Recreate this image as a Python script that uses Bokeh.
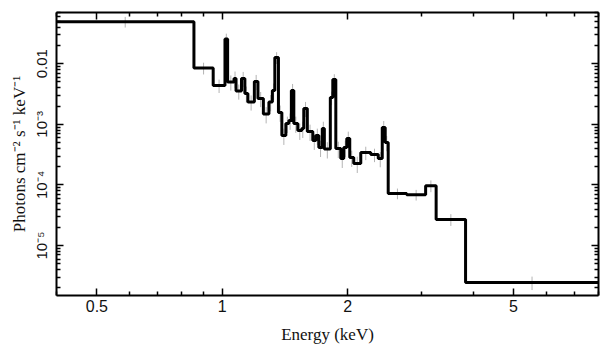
import numpy as np
from bokeh.plotting import figure
from bokeh.models import LogAxis, FixedTicker, Range1d, ColumnDataSource, CustomLabelingPolicy
from bokeh.embed import file_html
from bokeh.resources import INLINE

# Bin edges (keV) and unfolded flux (photons cm^-2 s^-1 keV^-1)
edges = [0.40, 0.855, 0.951, 1.015, 1.030, 1.067, 1.079, 1.112, 1.133, 1.152,
         1.194, 1.218, 1.255, 1.294, 1.319, 1.337, 1.364, 1.390, 1.421, 1.445,
         1.465, 1.485, 1.518, 1.552, 1.569, 1.600, 1.649, 1.677, 1.705, 1.738,
         1.758, 1.817, 1.842, 1.873, 1.925, 1.957, 1.990, 2.023, 2.068, 2.150,
         2.272, 2.368, 2.421, 2.461, 2.502, 2.771, 3.077, 3.261, 3.837, 8.0]
flux = [0.0494, 0.00852, 0.00438, 0.0257, 0.00500, 0.00572, 0.00355, 0.00572, 0.00323,
        0.00234, 0.00510, 0.00267, 0.00148, 0.00234, 0.00362, 0.0127, 0.00157,
        0.000653, 0.00103, 0.00116, 0.00362, 0.00103, 0.00079, 0.00085, 0.00183,
        0.00076, 0.00054, 0.000653, 0.000413, 0.00085, 0.00039, 0.00277, 0.00550,
        0.000398, 0.000272, 0.000413, 0.000583, 0.000283, 0.000225, 0.000342,
        0.000317, 0.000272, 0.000886, 0.000500, 7.26e-5, 6.91e-5, 9.74e-5, 2.70e-5,
        2.46e-6]
rel_err = [0.20, 0.22, 0.25, 0.22, 0.28, 0.30, 0.28, 0.28, 0.30, 0.28,
           0.28, 0.28, 0.30, 0.30, 0.30, 0.22, 0.30, 0.30, 0.30, 0.30,
           0.28, 0.30, 0.30, 0.30, 0.28, 0.30, 0.30, 0.30, 0.30, 0.30,
           0.30, 0.25, 0.22, 0.30, 0.30, 0.30, 0.30, 0.30, 0.30, 0.25,
           0.25, 0.28, 0.28, 0.28, 0.20, 0.20, 0.22, 0.22, 0.25]

x_ticks = [0.5, 1, 2, 5]
x_labels = ["0.5", "1", "2", "5"]
x_minor = [0.4, 0.6, 0.7, 0.8, 0.9, 3, 4, 6, 7, 8]
y_ticks = [1e-5, 1e-4, 1e-3, 1e-2]
y_labels = ["10\u207b\u2075", "10\u207b\u2074", "10\u207b\u00b3", "0.01"]
y_minor = [k * 10.0 ** n for n in range(-6, -1) for k in range(2, 10)]

x_range = (0.4, 8.0)
y_range = (1.5e-6, 0.07)

p = figure(x_axis_type="log", y_axis_type="log",
           x_range=Range1d(*x_range), y_range=Range1d(*y_range),
           output_backend="svg", toolbar_location=None,
           min_border_left=56, min_border_right=11, min_border_top=12, min_border_bottom=62)
p.frame_width = 542
p.frame_height = 283
p.grid.visible = False
p.outline_line_color = None
p.background_fill_color = "white"
p.border_fill_color = "white"

# error bars
e = np.array(edges)
f = np.array(flux)
r = np.array(rel_err)
centers = np.sqrt(e[:-1] * e[1:])
p.segment(x0=centers, y0=f * (1 - r), x1=centers, y1=f * (1 + r),
          line_color="#b4b4b4", line_width=1)

# stepped spectrum
src = ColumnDataSource(dict(x=edges, y=list(flux) + [flux[-1]]))
p.step("x", "y", source=src, mode="after", line_color="black", line_width=3)

def style(ax, size="15px"):
    ax.axis_line_width = 2
    ax.axis_line_color = "black"
    ax.major_tick_in = 7
    ax.major_tick_out = 0
    ax.minor_tick_in = 4
    ax.minor_tick_out = 0
    ax.major_tick_line_width = 1.5
    ax.minor_tick_line_width = 1.5
    ax.major_tick_line_color = "black"
    ax.minor_tick_line_color = "black"
    ax.major_label_text_font = "Liberation Sans"
    ax.major_label_text_font_size = size
    ax.major_label_text_color = "#111111"
    ax.axis_label_text_font = "Liberation Serif"
    ax.axis_label_text_font_style = "normal"
    ax.axis_label_text_font_size = "17px"
    ax.axis_label_text_color = "#111111"

xt = FixedTicker(ticks=x_ticks, minor_ticks=x_minor)
yt = FixedTicker(ticks=y_ticks, minor_ticks=y_minor)

p.xaxis.ticker = xt
p.xaxis.major_label_overrides = dict(zip(x_ticks, x_labels))
p.xaxis.axis_label = "Energy (keV)"
style(p.xaxis[0], "16px")
p.xaxis.major_label_standoff = 4
p.xaxis.axis_label_standoff = 10

p.yaxis.ticker = yt
p.yaxis.major_label_overrides = dict(zip(y_ticks, y_labels))
p.yaxis.major_label_orientation = "vertical"
p.yaxis.axis_label = "Photons cm\u207b\u00b2 s\u207b\u00b9 keV\u207b\u00b9"
style(p.yaxis[0], "15px")
p.yaxis.major_label_standoff = 6
p.yaxis.axis_label_standoff = 2

top = LogAxis(ticker=FixedTicker(ticks=x_ticks, minor_ticks=x_minor))
style(top, "1px")
top.major_label_policy = CustomLabelingPolicy(code="return new Set()")
top.major_label_standoff = 0
p.add_layout(top, "above")
right = LogAxis(ticker=FixedTicker(ticks=y_ticks, minor_ticks=y_minor))
style(right, "1px")
right.major_label_policy = CustomLabelingPolicy(code="return new Set()")
right.major_label_standoff = 0
p.add_layout(right, "right")

open("out.html", "w").write(file_html(p, INLINE))
